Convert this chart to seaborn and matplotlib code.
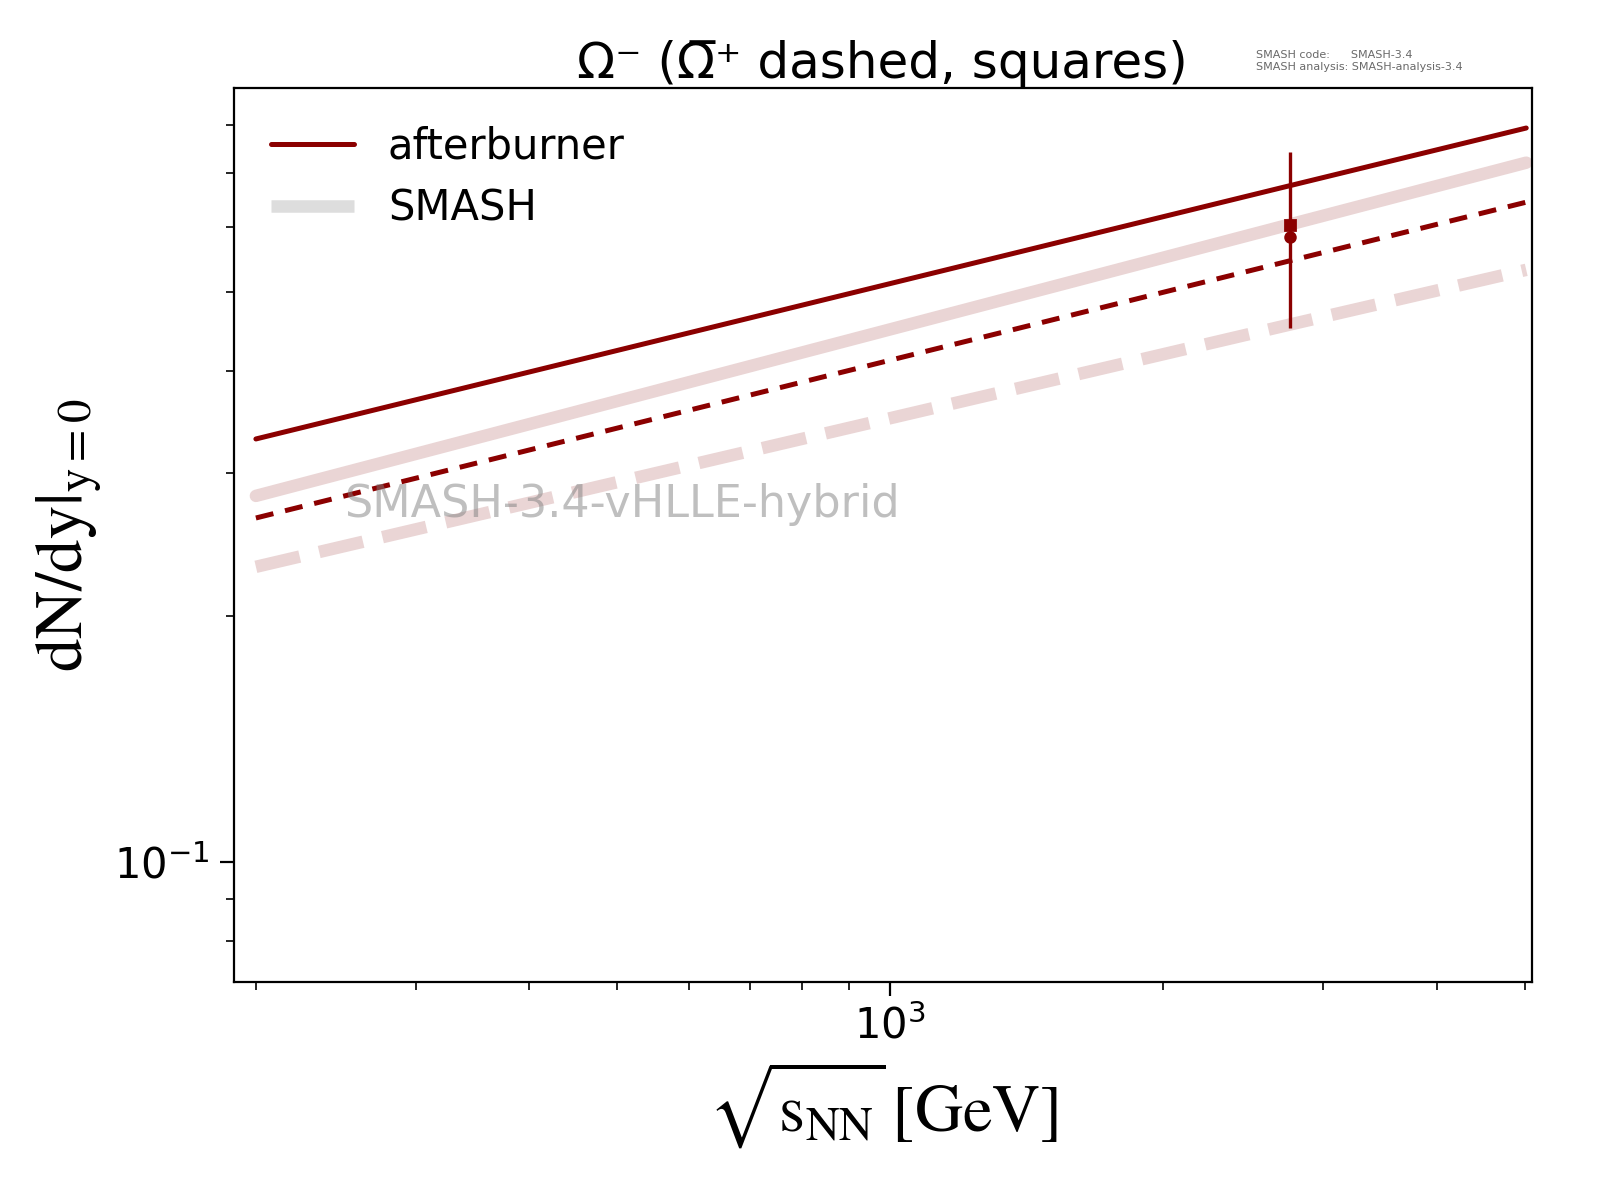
import matplotlib
matplotlib.use("Agg")
import matplotlib.pyplot as plt
import seaborn as sns
import pandas as pd
from matplotlib.lines import Line2D

sqrt_s = [200, 2760, 5020]
after_omega = [0.33, 0.675, 0.794]
after_antiomega = [0.264, 0.546, 0.644]
smash_omega = [0.281, 0.605, 0.72]
smash_antiomega = [0.23, 0.456, 0.532]
exp_x = [2760]
exp_omega = [0.583]
exp_antiomega = [0.603]
exp_err_low = [0.452]
exp_err_high = [0.741]

sns.set_style("ticks")
plt.rcParams.update({'mathtext.fontset': 'stix', 'text.color': 'black',
                     'axes.labelcolor': 'black', 'xtick.color': 'black',
                     'ytick.color': 'black', 'axes.edgecolor': 'black'})
fig = plt.figure(figsize=(8, 6), dpi=200)
ax = fig.add_axes([0.146, 0.182, 0.8115, 0.745])

dark = "#8b0000"
light = (0.85, 0.7, 0.7, 0.55)
df = pd.DataFrame({"x": sqrt_s, "ao": after_omega, "aa": after_antiomega,
                   "so": smash_omega, "sa": smash_antiomega})
sns.lineplot(data=df, x="x", y="so", ax=ax, color=light, lw=4.5)
sns.lineplot(data=df, x="x", y="sa", ax=ax, color=light, lw=4.5).lines[-1].set_linestyle((0, (3.6, 1.6)))
sns.lineplot(data=df, x="x", y="ao", ax=ax, color=dark, lw=1.8)
sns.lineplot(data=df, x="x", y="aa", ax=ax, color=dark, lw=1.8).lines[-1].set_linestyle((0, (3.6, 2.4)))

ax.errorbar(exp_x, exp_omega,
            yerr=[[exp_omega[0] - exp_err_low[0]], [exp_err_high[0] - exp_omega[0]]],
            fmt="o", color=dark, ms=3.5, lw=1.2)
ax.plot(exp_x, exp_antiomega, "s", color=dark, ms=3.5)

ax.set_xscale("log"); ax.set_yscale("log")
ax.set_xlim(189, 5094); ax.set_ylim(0.0713, 0.89)
ax.tick_params(labelsize=15, length=5)
ax.tick_params(which="minor", length=3)
ax.set_xlabel(r"$\sqrt{\mathrm{s_{NN}}}\,[\mathrm{GeV}]$", fontsize=24)
ax.set_ylabel(r"$\mathrm{dN/dy|_{y=0}}$", fontsize=24)
ax.set_title("Ω\u207b (Ω\u0305\u207a dashed, squares)", fontsize=18, pad=2)
ax.text(0.085, 0.52, "SMASH-3.4-vHLLE-hybrid", transform=ax.transAxes,
        color="grey", alpha=0.5, fontsize=16)
fig.text(0.785, 0.942, "SMASH code:      SMASH-3.4\nSMASH analysis: SMASH-analysis-3.4",
         fontsize=4, color="dimgrey")
handles = [Line2D([], [], color=dark, lw=1.8),
           Line2D([], [], color="#dddddd", lw=4.5, solid_capstyle="butt")]
ax.legend(handles, ["afterburner", "SMASH"], loc="upper left", frameon=False, fontsize=15)
fig.savefig("out.png", dpi=200)
